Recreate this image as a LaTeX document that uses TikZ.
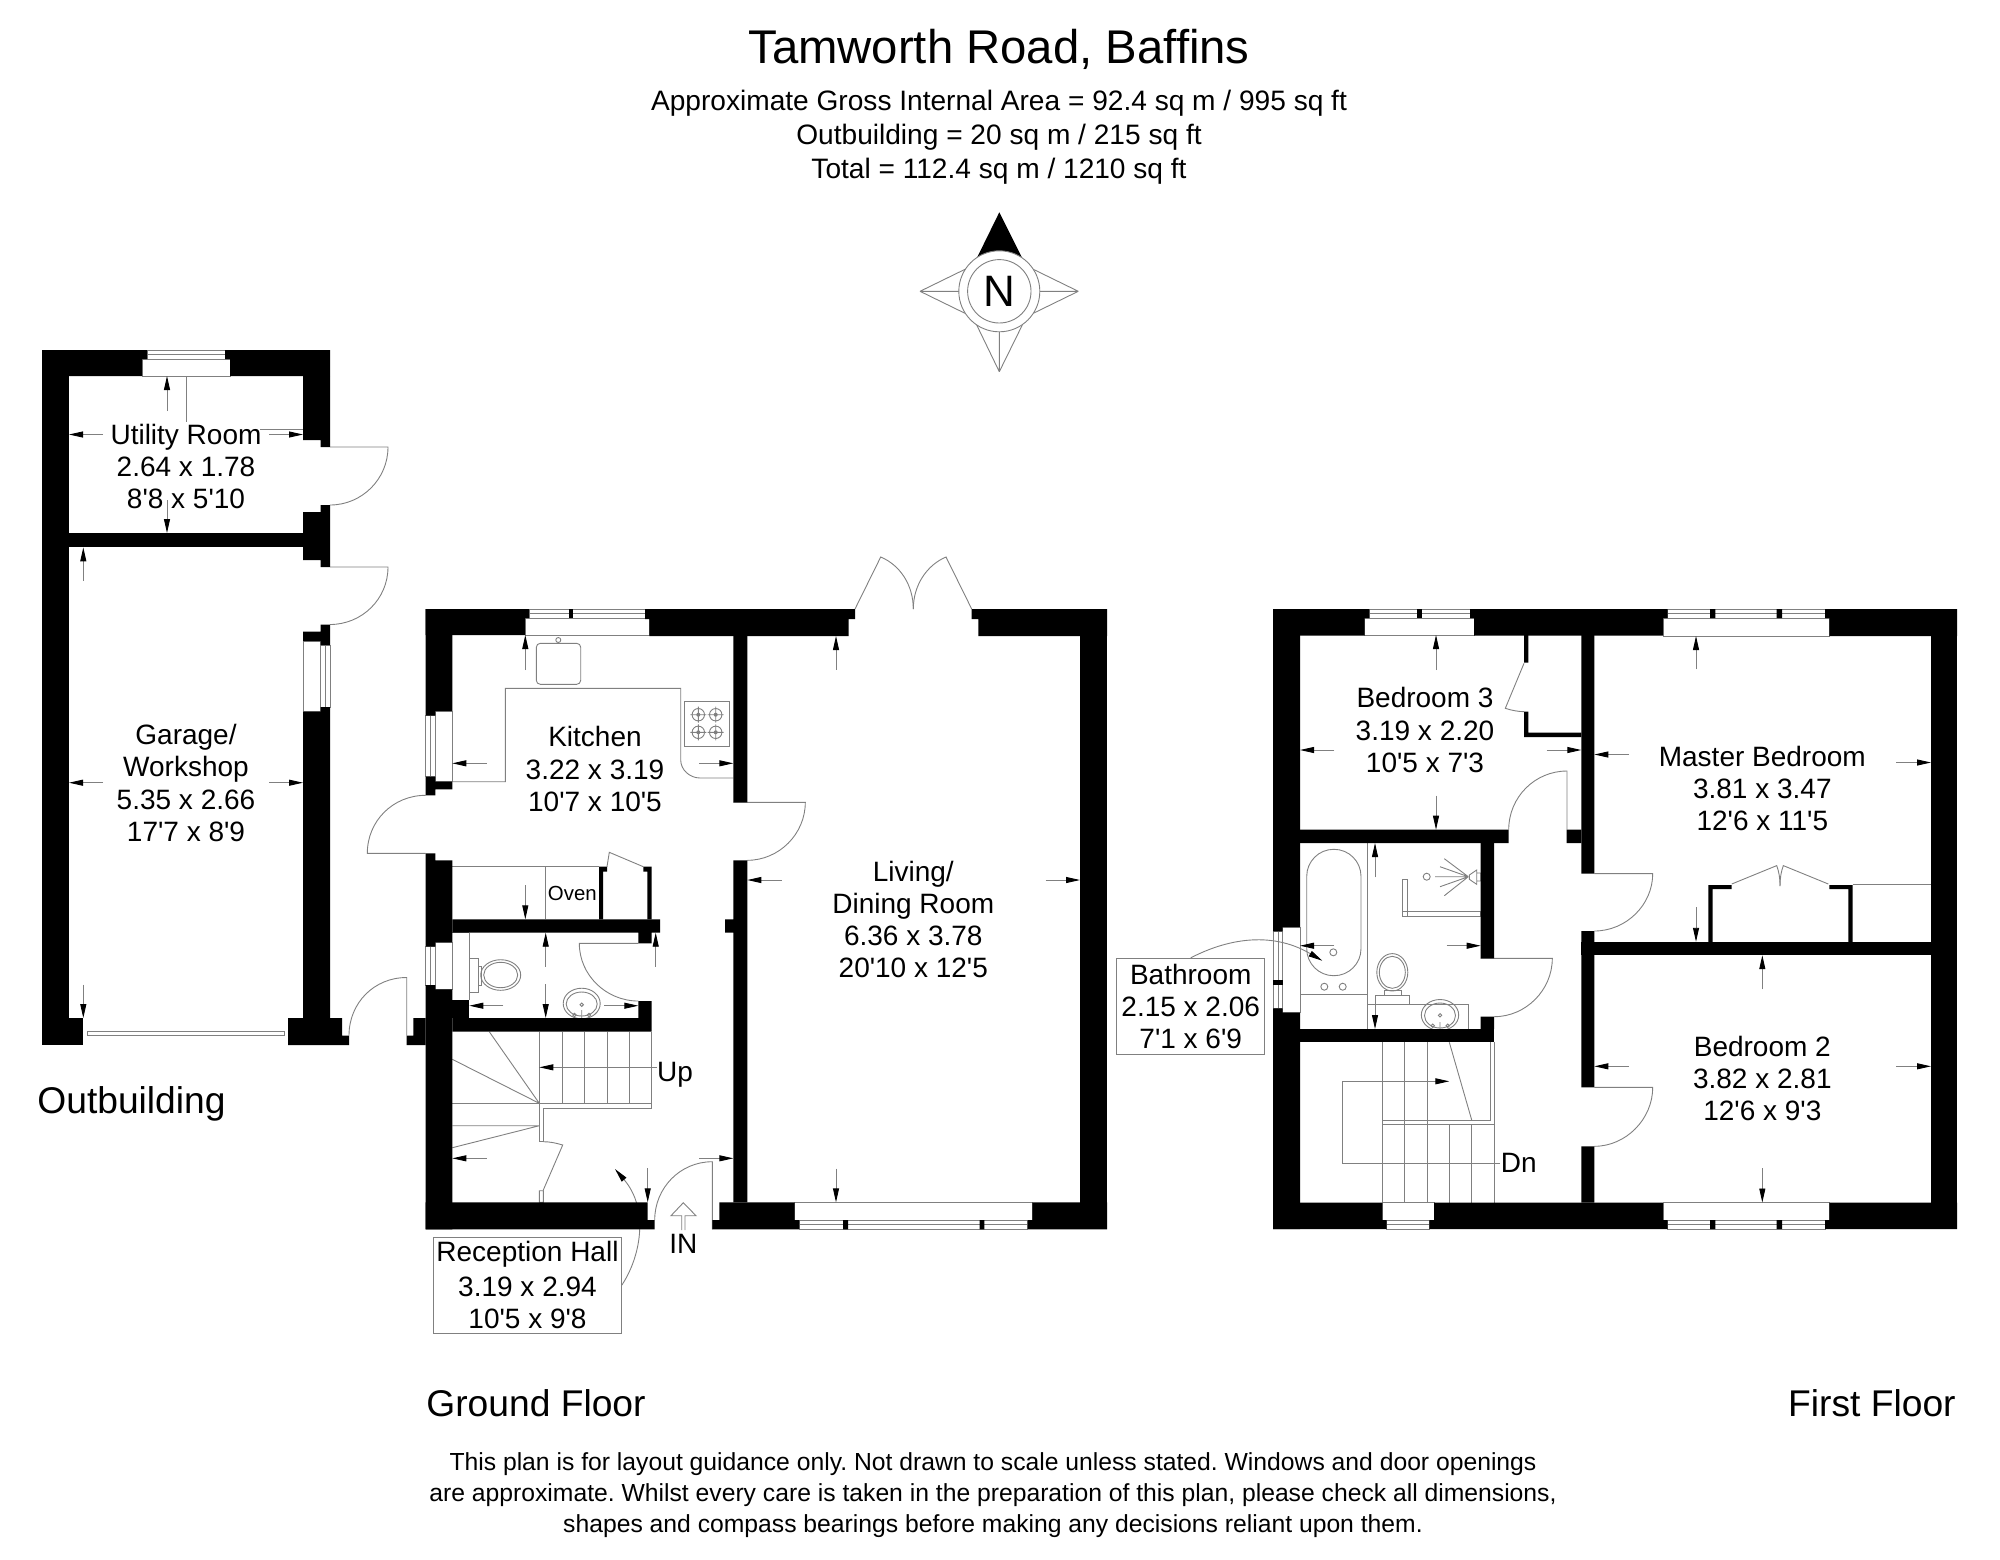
\documentclass[tikz,border=0pt]{standalone}
\usepackage{fontspec}
\setmainfont{Liberation Sans}[Ligatures=TeXOff]
\usetikzlibrary{arrows.meta}
\tikzset{
  wall/.style={fill=black},
  thinline/.style={draw=gray,line width=0.45pt},
  dimline/.style={draw=gray,line width=0.45pt,-{Triangle[length=7pt,width=3pt,black]}},
  roomlabel/.style={align=center,inner sep=0pt,font=\fontsize{14}{16.1}\selectfont},
  boxlabel/.style={roomlabel,draw=gray,line width=0.45pt,fill=white,minimum width=#1},
  boxlabel/.default=90pt,
  plantitle/.style={inner sep=0pt,font=\fontsize{18.6}{22}\selectfont},
}
\frenchspacing
\begin{document}
\begin{tikzpicture}[x=0.5pt,y=-0.5pt]
\useasboundingbox (0,0) rectangle (2000,1559);

% Title block
\node[inner sep=0pt,font=\fontsize{23.65}{28}\selectfont] (title) at (999,49.5) {Tamworth Road, Baffins};
\node[roomlabel,font=\fontsize{14.05}{16.9}\selectfont] (areas) at (999,137) {Approximate Gross Internal Area = 92.4 sq m / 995 sq ft\\Outbuilding = 20 sq m / 215 sq ft\\Total = 112.4 sq m / 1210 sq ft};

% Compass
\fill[black] (999.3,212.3) -- (976.7,258.3) -- (1022.3,258.3) -- cycle;
\draw[thinline] (920,291.3) -- (965,269.3) (920,291.3) -- (965,313.3) (920,291.3) -- (960,291.3);
\draw[thinline] (1078.3,291.3) -- (1033.3,269.3) (1078.3,291.3) -- (1033.3,313.3) (1078.3,291.3) -- (1038,291.3);
\draw[thinline] (999.3,371.7) -- (976.7,325) (999.3,371.7) -- (1022.3,325) (999.3,371.7) -- (999.3,332);
\draw[thinline,fill=white] (999.3,291.3) circle[radius=40.5];
\node[circle,thinline,minimum size=31.7pt,inner sep=0pt,font=\fontsize{22}{24}\selectfont] (north) at (999.3,291.3) {\raisebox{-0.6pt}{N}};

% Outbuilding fittings
\draw[thinline] (147,350) rectangle (225,359) (147,354.5) -- (225,354.5) (142,359) rectangle (230,376);
\draw[thinline] (186,376) -- (186,422) (260,429.5) -- (303,429.5);
\draw[thinline] (330,447) -- (388,447) .. controls (388,479) and (362,505) .. (330,505);
\draw[thinline] (330,567) -- (388,567) .. controls (388,599) and (362,624.5) .. (330,624.5);
\draw[thinline] (303,641) rectangle (320.7,711.6) (320.7,645) rectangle (330,707) (325.3,645) -- (325.3,707);
\draw[thinline] (87,1031.5) rectangle (284,1035.5);
\draw[thinline] (406.7,1035.7) -- (406.7,977.5) .. controls (374,977.5) and (349,1003) .. (349,1035.5);
\draw[dimline] (167,411) -- (167,376);
\draw[dimline] (103,434.5) -- (69,434.5);
\draw[dimline] (269,434.5) -- (303,434.5);
\draw[dimline] (167,500) -- (167,533);
\draw[dimline] (83.3,580.7) -- (83.3,547.4);
\draw[dimline] (103,782.7) -- (69,782.7);
\draw[dimline] (269,782.7) -- (303,782.7);
\draw[dimline] (83.3,984.7) -- (83.3,1018);

% Kitchen fittings
\draw[thinline] (529,609) rectangle (645,618) (529,613.5) -- (645,613.5) (525,618) rectangle (649.3,635);
\draw[thinline] (425.7,715.7) rectangle (435.3,776.7) (430.5,715.7) -- (430.5,776.7) (435.3,711) rectangle (452.3,781.7);
\draw[thinline,rounded corners=2pt] (536.3,643.3) rectangle (580.7,684.3);
\draw[thinline] (558.3,640) circle[radius=2.5];
\draw[thinline] (452.3,781.7) -- (505.3,781.7) -- (505.3,688.3) -- (680.7,688.3) -- (680.7,760) .. controls (680.7,770) and (690,778) .. (700,778) -- (733.3,778);
\draw[thinline] (684.3,701) rectangle (729.7,746.3);
\foreach \hx in {698.3,715.7}
  \foreach \hy in {714.7,732.3} {
    \draw[thinline] (\hx,\hy) circle[radius=6.2] (\hx-8,\hy) -- (\hx+8,\hy) (\hx,\hy-8) -- (\hx,\hy+8);
    \fill[gray] (\hx,\hy) circle[radius=2];
  }
\draw[thinline] (425.7,853.3) -- (367.3,853.3) .. controls (367.3,821) and (393,795.3) .. (425.7,795.3);
\draw[thinline] (733.3,802.3) -- (805.3,802.3) .. controls (805.3,834) and (779,860.3) .. (747.3,860.3);
\draw[thinline] (452.3,866.7) -- (599,866.7) (545.7,866.7) -- (545.7,919.3);
\draw[thinline] (607,866.7) -- (609.3,852.3) -- (643.3,866.7);
\draw[dimline] (525.3,670) -- (525.3,635);
\draw[dimline] (486.7,763.3) -- (452.3,763.3);
\draw[dimline] (699.3,763.3) -- (733.3,763.3);
\draw[dimline] (525.3,885.3) -- (525.3,919.3);
\node[inner sep=0pt,font=\fontsize{10.2}{12}\selectfont] (oven) at (572.3,893.3) {Oven};

% Cloakroom fittings
\draw[thinline] (425.7,946.7) rectangle (435.3,985) (430.5,946.7) -- (430.5,985) (435.3,942.3) rectangle (452.3,989.3);
\draw[thinline] (452.3,932.7) -- (469.3,932.7) (469.3,932.7) -- (469.3,1000);
\draw[thinline] (469.3,958) rectangle (478,992.7) (478,966.7) rectangle (481.7,985);
\draw[thinline] (500.7,975) ellipse[x radius=20,y radius=15.3] (500.7,975) ellipse[x radius=17,y radius=12.7];
\draw[thinline] (581.7,1003.5) ellipse[x radius=18.5,y radius=15.3] (581.7,1004) ellipse[x radius=15.5,y radius=12];
\draw[thinline] (581.7,1004.7) circle[radius=1.7] (574.5,1015) circle[radius=1.7] (589,1015) circle[radius=1.7] (581.7,1010) -- (581.7,1018);
\draw[thinline] (638.3,943.3) -- (579.3,943.3) .. controls (579.3,975) and (606,1001) .. (638.3,1001);
\draw[dimline] (545.7,966.7) -- (545.7,932.7);
\draw[dimline] (545.7,984) -- (545.7,1018);
\draw[dimline] (655.7,966.7) -- (655.7,932.7);
\draw[dimline] (503.3,1005.7) -- (469.3,1005.7);
\draw[dimline] (604.3,1005.7) -- (638.3,1005.7);

% Stairs and hall
\foreach \tx in {539.3,562.3,584.3,607,629.3,651.3}
  \draw[thinline] (\tx,1031.7) -- (\tx,1103.3);
\draw[thinline] (452.3,1103.3) -- (651.3,1103.3) -- (651.3,1108) -- (543.3,1108) -- (543.3,1141.7) -- (539.3,1141.7) -- (539.3,1103.3);
\draw[thinline] (489.3,1031.7) -- (539.3,1103.3) (452.3,1059.3) -- (539.3,1103.3);
\draw[thinline] (452.3,1125.7) -- (539.3,1125.7) (452.3,1147.7) -- (539.3,1125.7);
\draw[thinline] (543.3,1141.7) .. controls (550,1141.7) and (556,1143) .. (562.7,1145) -- (543.3,1190) (539.3,1190.7) rectangle (543.3,1202.3);
\draw[dimline] (656.7,1067.3) -- (539.3,1067.3);
\draw[dimline] (486.7,1158.3) -- (452.3,1158.3);
\draw[dimline] (647.7,1168.3) -- (647.7,1202.3);
\draw[dimline] (699.3,1158.3) -- (733.3,1158.3);
\draw[thinline] (712.3,1229.3) -- (712.3,1161.7) .. controls (680,1161.7) and (654.7,1188) .. (654.7,1220);
\draw[thinline] (681.7,1230) -- (681.7,1215.7) -- (671,1215.7) -- (683.3,1202.7) -- (696,1215.7) -- (685,1215.7) -- (685,1230);
\node[boxlabel=93.8pt,minimum height=48.2pt] (recephall) at (527.5,1285.2) {Reception Hall\\[1.2pt]3.19 x 2.94\\10'5 x 9'8};
\draw[dimline] (recephall.east) .. controls (640,1258) and (650,1210) .. (615,1169);

% Living room fittings
\draw[thinline] (855,609) -- (880.7,557) .. controls (900,565) and (913.3,585) .. (913.3,609);
\draw[thinline] (971.7,609) -- (946,557) .. controls (927,565) and (913.3,585) .. (913.3,609);
\draw[thinline] (799.3,1220) rectangle (1027.7,1229.3) (799.3,1224.6) -- (1027.7,1224.6) (794.7,1202.3) rectangle (1032.3,1220);
\draw[dimline] (836,669.5) -- (836,636);
\draw[dimline] (781.7,880) -- (747.3,880);
\draw[dimline] (1045.7,880) -- (1080,880);
\draw[dimline] (836,1168.6) -- (836,1202.3);

% Outbuilding walls
\fill[wall] (42,350) rectangle (69,1045);
\fill[wall] (42,350) rectangle (147,359) (42,359) rectangle (142,376);
\fill[wall] (225,350) rectangle (330,359) (230,359) rectangle (330,376);
\fill[wall] (303,376) rectangle (330,440) (320.7,440) rectangle (330,447);
\fill[wall] (320.7,505) rectangle (330,567) (303,512) rectangle (320.7,560);
\fill[wall] (42,533) rectangle (330,547.4);
\fill[wall] (320.7,624.5) rectangle (330,645) (303,631.5) rectangle (320.7,641);
\fill[wall] (320.7,707) rectangle (330,711.6) (303,711.6) rectangle (330,1018);
\fill[wall] (42,1018) rectangle (83.3,1045);
\fill[wall] (288,1018) rectangle (342,1045) (342,1035.5) rectangle (349,1045);

% Ground floor walls
\fill[wall] (425.7,609) rectangle (529,618) (425.7,618) rectangle (525,635);
\fill[wall] (569,609) rectangle (573,618);
\fill[wall] (645,609) rectangle (855,619) (649.3,619) rectangle (848.7,636);
\fill[wall] (971.7,609) rectangle (1107,619) (978.3,619) rectangle (1107,636);
\fill[wall] (1080,636) rectangle (1107,1229.3);
\fill[wall] (425.7,609) rectangle (452.3,711) (425.7,711) rectangle (435.3,715.7);
\fill[wall] (425.7,776.7) rectangle (435.3,795.3) (435.3,781.7) rectangle (452.3,789.3);
\fill[wall] (425.7,853.3) rectangle (435.3,860.3) (425.7,860.3) rectangle (452.3,942.3) (425.7,942.3) rectangle (435.3,946.7);
\fill[wall] (425.7,985) rectangle (435.3,989.3) (425.7,989.3) rectangle (452.3,1229.3);
\fill[wall] (452.3,1000) rectangle (469.3,1018);
\fill[wall] (413.3,1018) rectangle (425.7,1035.7) (406.7,1035.7) rectangle (425.7,1045);
\fill[wall] (452.3,919.3) rectangle (660,932.7) (638.3,932.7) rectangle (651.7,943.3);
\fill[wall] (452.3,1018) rectangle (651.7,1031.7) (638.3,1001) rectangle (651.7,1018);
\fill[wall] (599,866.7) rectangle (603,919.3) (599,866.7) rectangle (607,871.7);
\fill[wall] (647.3,866.7) rectangle (651.7,919.3) (643.3,866.7) rectangle (651.7,871.7);
\fill[wall] (733.3,636) rectangle (747.3,802.3) (733.3,860.3) rectangle (747.3,1202.3) (725,919.3) rectangle (733.3,932.7);
\fill[wall] (425.7,1202.3) rectangle (647.7,1220) (425.7,1220) rectangle (654.7,1229.3);
\fill[wall] (719.3,1202.3) rectangle (794.7,1220) (712.3,1220) rectangle (799.3,1229.3);
\fill[wall] (1032.3,1202.3) rectangle (1107,1220) (1027.7,1220) rectangle (1107,1229.3);
\fill[wall] (843,1220) rectangle (848,1229.3) (979.7,1220) rectangle (984.3,1229.3);

% First floor: Bedroom 3 and bathroom fittings
\draw[thinline] (1369.3,609) rectangle (1470,618) (1369.3,613.5) -- (1470,613.5) (1364.7,618) rectangle (1474,635);
\draw[thinline] (1524,663.3) -- (1505.3,708.3) .. controls (1512,710.5) and (1518,711.5) .. (1524,711.7);
\draw[thinline] (1567,829.7) -- (1567,771) .. controls (1535,771) and (1508.7,797) .. (1508.7,829.7);
\draw[dimline] (1436,670) -- (1436,635);
\draw[dimline] (1334.3,750) -- (1300,750);
\draw[dimline] (1546.7,750) -- (1581.3,750);
\draw[dimline] (1436,795.7) -- (1436,829.7);
\draw[thinline] (1273.3,931.3) rectangle (1282.7,1008.3) (1278,931.3) -- (1278,1008.3) (1282.7,927) rectangle (1300,1012.7);
\draw[thinline,rounded corners=13.5pt] (1306.7,849.3) rectangle (1361,975.7);
\draw[thinline] (1367.3,843) -- (1367.3,1029) (1300,994.7) -- (1367.3,994.7);
\draw[thinline] (1324.3,986.7) circle[radius=3.5] (1342.7,986.7) circle[radius=3.5] (1333.3,952.3) circle[radius=3.5];
\draw[thinline] (1469.3,875) -- (1476.7,870) -- (1476.7,884.3) -- (1469.3,879.3) -- cycle (1476.7,873) rectangle (1480.7,881);
\draw[thinline] (1468.3,876.7) -- (1444.3,858.7) (1468.3,876.7) -- (1440,866.7) (1468.3,876.7) -- (1435,876.7) (1468.3,876.7) -- (1440,886.7) (1468.3,876.7) -- (1444.3,895.7);
\draw[thinline] (1426.7,876.7) circle[radius=3.5];
\draw[thinline] (1402.3,879.3) rectangle (1407,916) (1402.3,911) rectangle (1480.7,916) (1407,879.3) -- (1407,911);
\draw[thinline] (1392.3,972.3) ellipse[x radius=15.5,y radius=18.7] (1392.3,972.3) ellipse[x radius=13,y radius=16];
\draw[thinline] (1384,990.7) rectangle (1401.7,995.3) (1375.3,995.3) rectangle (1409.7,1004.3);
\draw[thinline] (1367.3,1004.3) -- (1468.7,1004.3) -- (1468.7,1029);
\draw[thinline] (1440,1015) ellipse[x radius=18.7,y radius=15.5] (1440,1015.5) ellipse[x radius=15.5,y radius=12.5];
\draw[thinline] (1440,1015.3) circle[radius=1.7] (1432.7,1025.7) circle[radius=1.7] (1447.7,1025.7) circle[radius=1.7] (1440,1022) -- (1440,1029);
\draw[thinline] (1480.7,958.3) -- (1552.3,958.3) .. controls (1552.3,990) and (1526,1016.7) .. (1494,1016.7);
\draw[dimline] (1375,877.3) -- (1375,843);
\draw[dimline] (1375,995) -- (1375,1029);
\draw[dimline] (1334.3,945.7) -- (1300,945.7);
\draw[dimline] (1446.7,945.7) -- (1480.7,945.7);
\node[boxlabel=74pt,minimum height=48pt] (bathlabel) at (1190.7,1006.3) {Bathroom\\2.15 x 2.06\\7'1 x 6'9};
\draw[dimline] (bathlabel.north) .. controls (1225,940) and (1270,930) .. (1322.3,960.7);

% First floor: stairs
\foreach \tx in {1382.3,1404.7,1427,1494}
  \draw[thinline] (\tx,1042.3) -- (\tx,1202.7);
\foreach \tx in {1449.3,1471.7}
  \draw[thinline] (\tx,1124.3) -- (\tx,1202.7);
\draw[thinline] (1490,1042.3) -- (1490,1120) -- (1382.3,1120) (1382.3,1124.3) -- (1494,1124.3);
\draw[thinline] (1449.3,1042.3) -- (1471.7,1120);
\draw[dimline] (1500,1163.3) -- (1342.3,1163.3) -- (1342.3,1081.3) -- (1449.3,1081.3);
\draw[thinline] (1386.7,1220) rectangle (1429.3,1229) (1386.7,1224.5) -- (1429.3,1224.5) (1382.3,1202.7) rectangle (1434,1220);

% First floor: Master Bedroom and Bedroom 2 fittings
\draw[thinline] (1667.7,609) rectangle (1825,618) (1667.7,613.5) -- (1825,613.5) (1663,618) rectangle (1829.3,636);
\draw[thinline] (1667.7,1220) rectangle (1825,1229) (1667.7,1224.5) -- (1825,1224.5) (1663,1202.5) rectangle (1829.3,1220);
\draw[thinline] (1731.7,884) -- (1776.7,865.6) .. controls (1779,872) and (1780,878) .. (1780,886);
\draw[thinline] (1828.3,884) -- (1783.3,865.6) .. controls (1781,872) and (1780,878) .. (1780,886);
\draw[thinline] (1852.7,884.5) -- (1931,884.5);
\draw[thinline] (1594.3,873.6) -- (1652.7,873.6) .. controls (1652.7,905) and (1626,931) .. (1594.3,931);
\draw[thinline] (1594.3,1087.4) -- (1652.7,1087.4) .. controls (1652.7,1119) and (1626,1146.3) .. (1594.3,1146.3);
\draw[dimline] (1696,669.4) -- (1696,636);
\draw[dimline] (1629,754.5) -- (1594.3,754.5);
\draw[dimline] (1896,762.5) -- (1931,762.5);
\draw[dimline] (1696,907.2) -- (1696,941.8);
\draw[dimline] (1762.3,989.3) -- (1762.3,955.2);
\draw[dimline] (1629,1066.3) -- (1594.3,1066.3);
\draw[dimline] (1896,1066.3) -- (1931,1066.3);
\draw[dimline] (1762.3,1168.2) -- (1762.3,1202.5);

% First floor walls
\fill[wall] (1273,609) rectangle (1300,927) (1273,927) rectangle (1282.7,931.3);
\fill[wall] (1273,1008.3) rectangle (1282.7,1012.7) (1273,1012.7) rectangle (1300,1229);
\fill[wall] (1273.3,980) rectangle (1282.7,985);
\fill[wall] (1273,609) rectangle (1369.3,618) (1273,618) rectangle (1364.7,635.5);
\fill[wall] (1417,609) rectangle (1422,618);
\fill[wall] (1470,609) rectangle (1667.7,618) (1474,618) rectangle (1663,635.5);
\fill[wall] (1710,609) rectangle (1715.3,618) (1776.7,609) rectangle (1782,618);
\fill[wall] (1825,609) rectangle (1957,618) (1829.3,618) rectangle (1957,636);
\fill[wall] (1931,636) rectangle (1957,1229);
\fill[wall] (1273,1202.5) rectangle (1382.3,1220) (1273,1220) rectangle (1386.7,1229);
\fill[wall] (1434,1202.5) rectangle (1663,1220) (1429.3,1220) rectangle (1667.7,1229);
\fill[wall] (1710,1220) rectangle (1715.3,1229) (1776.7,1220) rectangle (1782,1229);
\fill[wall] (1829.3,1202.5) rectangle (1957,1220) (1825,1220) rectangle (1957,1229);
\fill[wall] (1581.3,635) rectangle (1594.3,873.6) (1581.3,931) rectangle (1594.3,1087.4) (1581.3,1146.3) rectangle (1594.3,1202.5);
\fill[wall] (1581.3,941.8) rectangle (1931,955.2);
\fill[wall] (1300,829.7) rectangle (1508.7,843) (1566.7,829.7) rectangle (1581.3,843);
\fill[wall] (1480.7,843) rectangle (1494,958.3) (1480.7,1016.7) rectangle (1494,1029);
\fill[wall] (1300,1029) rectangle (1494,1042.3);
\fill[wall] (1524,635) rectangle (1528.3,662.7) (1524,711.7) rectangle (1528.3,737) (1524,732.7) rectangle (1581.3,737);
\fill[wall] (1708.3,885) rectangle (1712.7,941.8) (1708.3,885) rectangle (1731.7,889);
\fill[wall] (1848.3,885) rectangle (1852.7,941.8) (1829.3,885) rectangle (1852.7,889);

% Room labels
\node[roomlabel] (utility) at (186,466.5) {Utility Room\\2.64 x 1.78\\8'8 x 5'10};
\node[roomlabel] (garage) at (186,783) {Garage/\\Workshop\\5.35 x 2.66\\17'7 x 8'9};
\node[roomlabel] (kitchen) at (595,769) {Kitchen\\3.22 x 3.19\\10'7 x 10'5};
\node[roomlabel] (living) at (913.3,919.5) {Living/\\Dining Room\\6.36 x 3.78\\20'10 x 12'5};
\node[roomlabel] (bedthree) at (1425,730) {Bedroom 3\\3.19 x 2.20\\10'5 x 7'3};
\node[roomlabel] (masterbed) at (1762.3,788.5) {Master Bedroom\\3.81 x 3.47\\12'6 x 11'5};
\node[roomlabel] (bedtwo) at (1762.3,1078.5) {Bedroom 2\\3.82 x 2.81\\12'6 x 9'3};
\node[roomlabel] (stairup) at (675,1075) {Up};
\node[roomlabel] (entry) at (683.3,1244) {IN};
\node[roomlabel] (stairdn) at (1518.7,1163.3) {Dn};

% Plan names and note
\node[plantitle,anchor=west] (outbuilding) at (37,1103.5) {Outbuilding};
\node[plantitle,anchor=west] (groundfloor) at (426,1403) {Ground Floor};
\node[plantitle,anchor=east] (firstfloor) at (1956,1403) {First Floor};
\node[roomlabel,font=\fontsize{12.35}{15.3}\selectfont] (disclaimer) at (993,1495) {This plan is for layout guidance only. Not drawn to scale unless stated. Windows and door openings\\are approximate. Whilst every care is taken in the preparation of this plan, please check all dimensions,\\shapes and compass bearings before making any decisions reliant upon them.};
\end{tikzpicture}
\end{document}
